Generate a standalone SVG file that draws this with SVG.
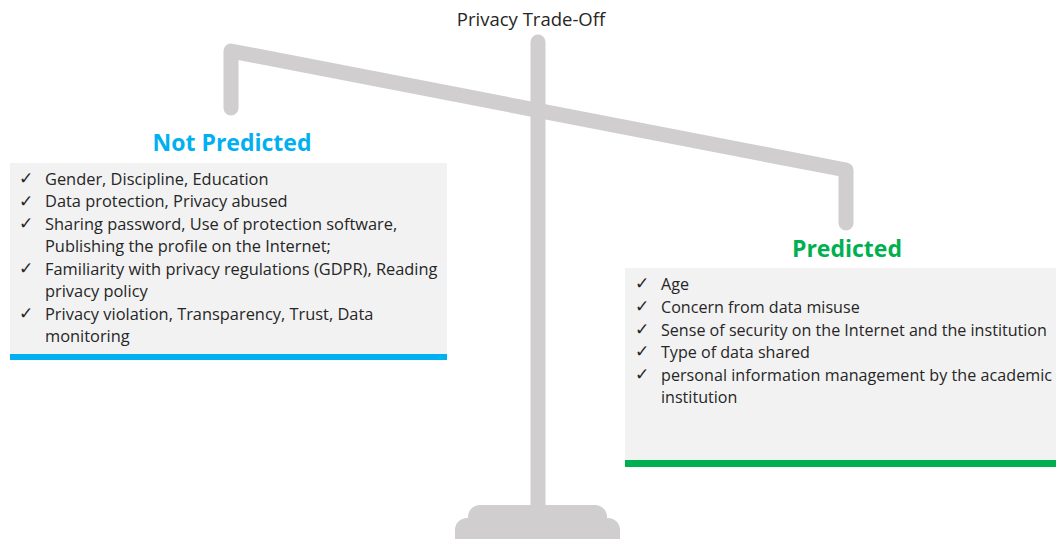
<svg xmlns="http://www.w3.org/2000/svg" width="1056" height="539" viewBox="0 0 1056 539">
<style>
.bar{fill:none;stroke:#D0CECE;stroke-width:15;stroke-linecap:round;stroke-linejoin:round}
.base{fill:#D0CECE}
.box{fill:#F2F2F2}
.t{font-family:"Open Sans","Liberation Sans",sans-serif;font-size:16.4px;fill:#262626}
.r{font-size:16.1px}
.ck{font-family:"DejaVu Sans",sans-serif;font-size:17px;fill:#262626}
.h{font-family:"Open Sans","Liberation Sans",sans-serif;font-size:23px;font-weight:bold;text-anchor:middle}
</style>
<rect width="1056" height="539" fill="#FFFFFF"/>
<g id="scale">
<line class="bar" x1="538" y1="42" x2="538" y2="520"/>
<polyline class="bar" points="231,108 231,51 846,170 846,223"/>
<rect class="base" x="468" y="505" width="139" height="30" rx="12"/>
<rect class="base" x="455" y="518" width="165" height="40" rx="12"/>
</g>
<g id="title">
<text x="531" y="26" class="t" style="font-size:18.5px" text-anchor="middle">Privacy Trade-Off</text>
</g>
<g id="not-predicted">
<rect class="box" x="10" y="163" width="437" height="197"/>
<rect x="10" y="354" width="437" height="6" fill="#00B0F0"/>
<text x="232" y="151" class="h" fill="#00B0F0">Not Predicted</text>
<text class="ck" x="19" y="184">✓</text>
<text class="ck" x="19" y="207">✓</text>
<text class="ck" x="19" y="229">✓</text>
<text class="ck" x="19" y="274">✓</text>
<text class="ck" x="19" y="319">✓</text>
<text class="t" x="45" y="185">Gender, Discipline, Education</text>
<text class="t" x="45" y="207">Data protection, Privacy abused</text>
<text class="t" x="45" y="230">Sharing password, Use of protection software,</text>
<text class="t" x="45" y="252">Publishing the profile on the Internet;</text>
<text class="t" x="45" y="275">Familiarity with privacy regulations (GDPR), Reading</text>
<text class="t" x="45" y="297">privacy policy</text>
<text class="t" x="45" y="320">Privacy violation, Transparency, Trust, Data</text>
<text class="t" x="45" y="342">monitoring</text>
</g>
<g id="predicted">
<rect class="box" x="625" y="268" width="431" height="199"/>
<rect x="625" y="460" width="431" height="7" fill="#00B050"/>
<text x="847" y="257" class="h" fill="#00B050">Predicted</text>
<text class="ck" x="635" y="289">✓</text>
<text class="ck" x="635" y="312">✓</text>
<text class="ck" x="635" y="335">✓</text>
<text class="ck" x="635" y="357">✓</text>
<text class="ck" x="635" y="380">✓</text>
<text class="t r" x="661" y="290">Age</text>
<text class="t r" x="661" y="313">Concern from data misuse</text>
<text class="t r" x="661" y="336">Sense of security on the Internet and the institution</text>
<text class="t r" x="661" y="358">Type of data shared</text>
<text class="t r" x="661" y="381" textLength="391" lengthAdjust="spacing">personal information management by the academic</text>
<text class="t r" x="661" y="403">institution</text>
</g>
<g id="connectors"></g>
</svg>
